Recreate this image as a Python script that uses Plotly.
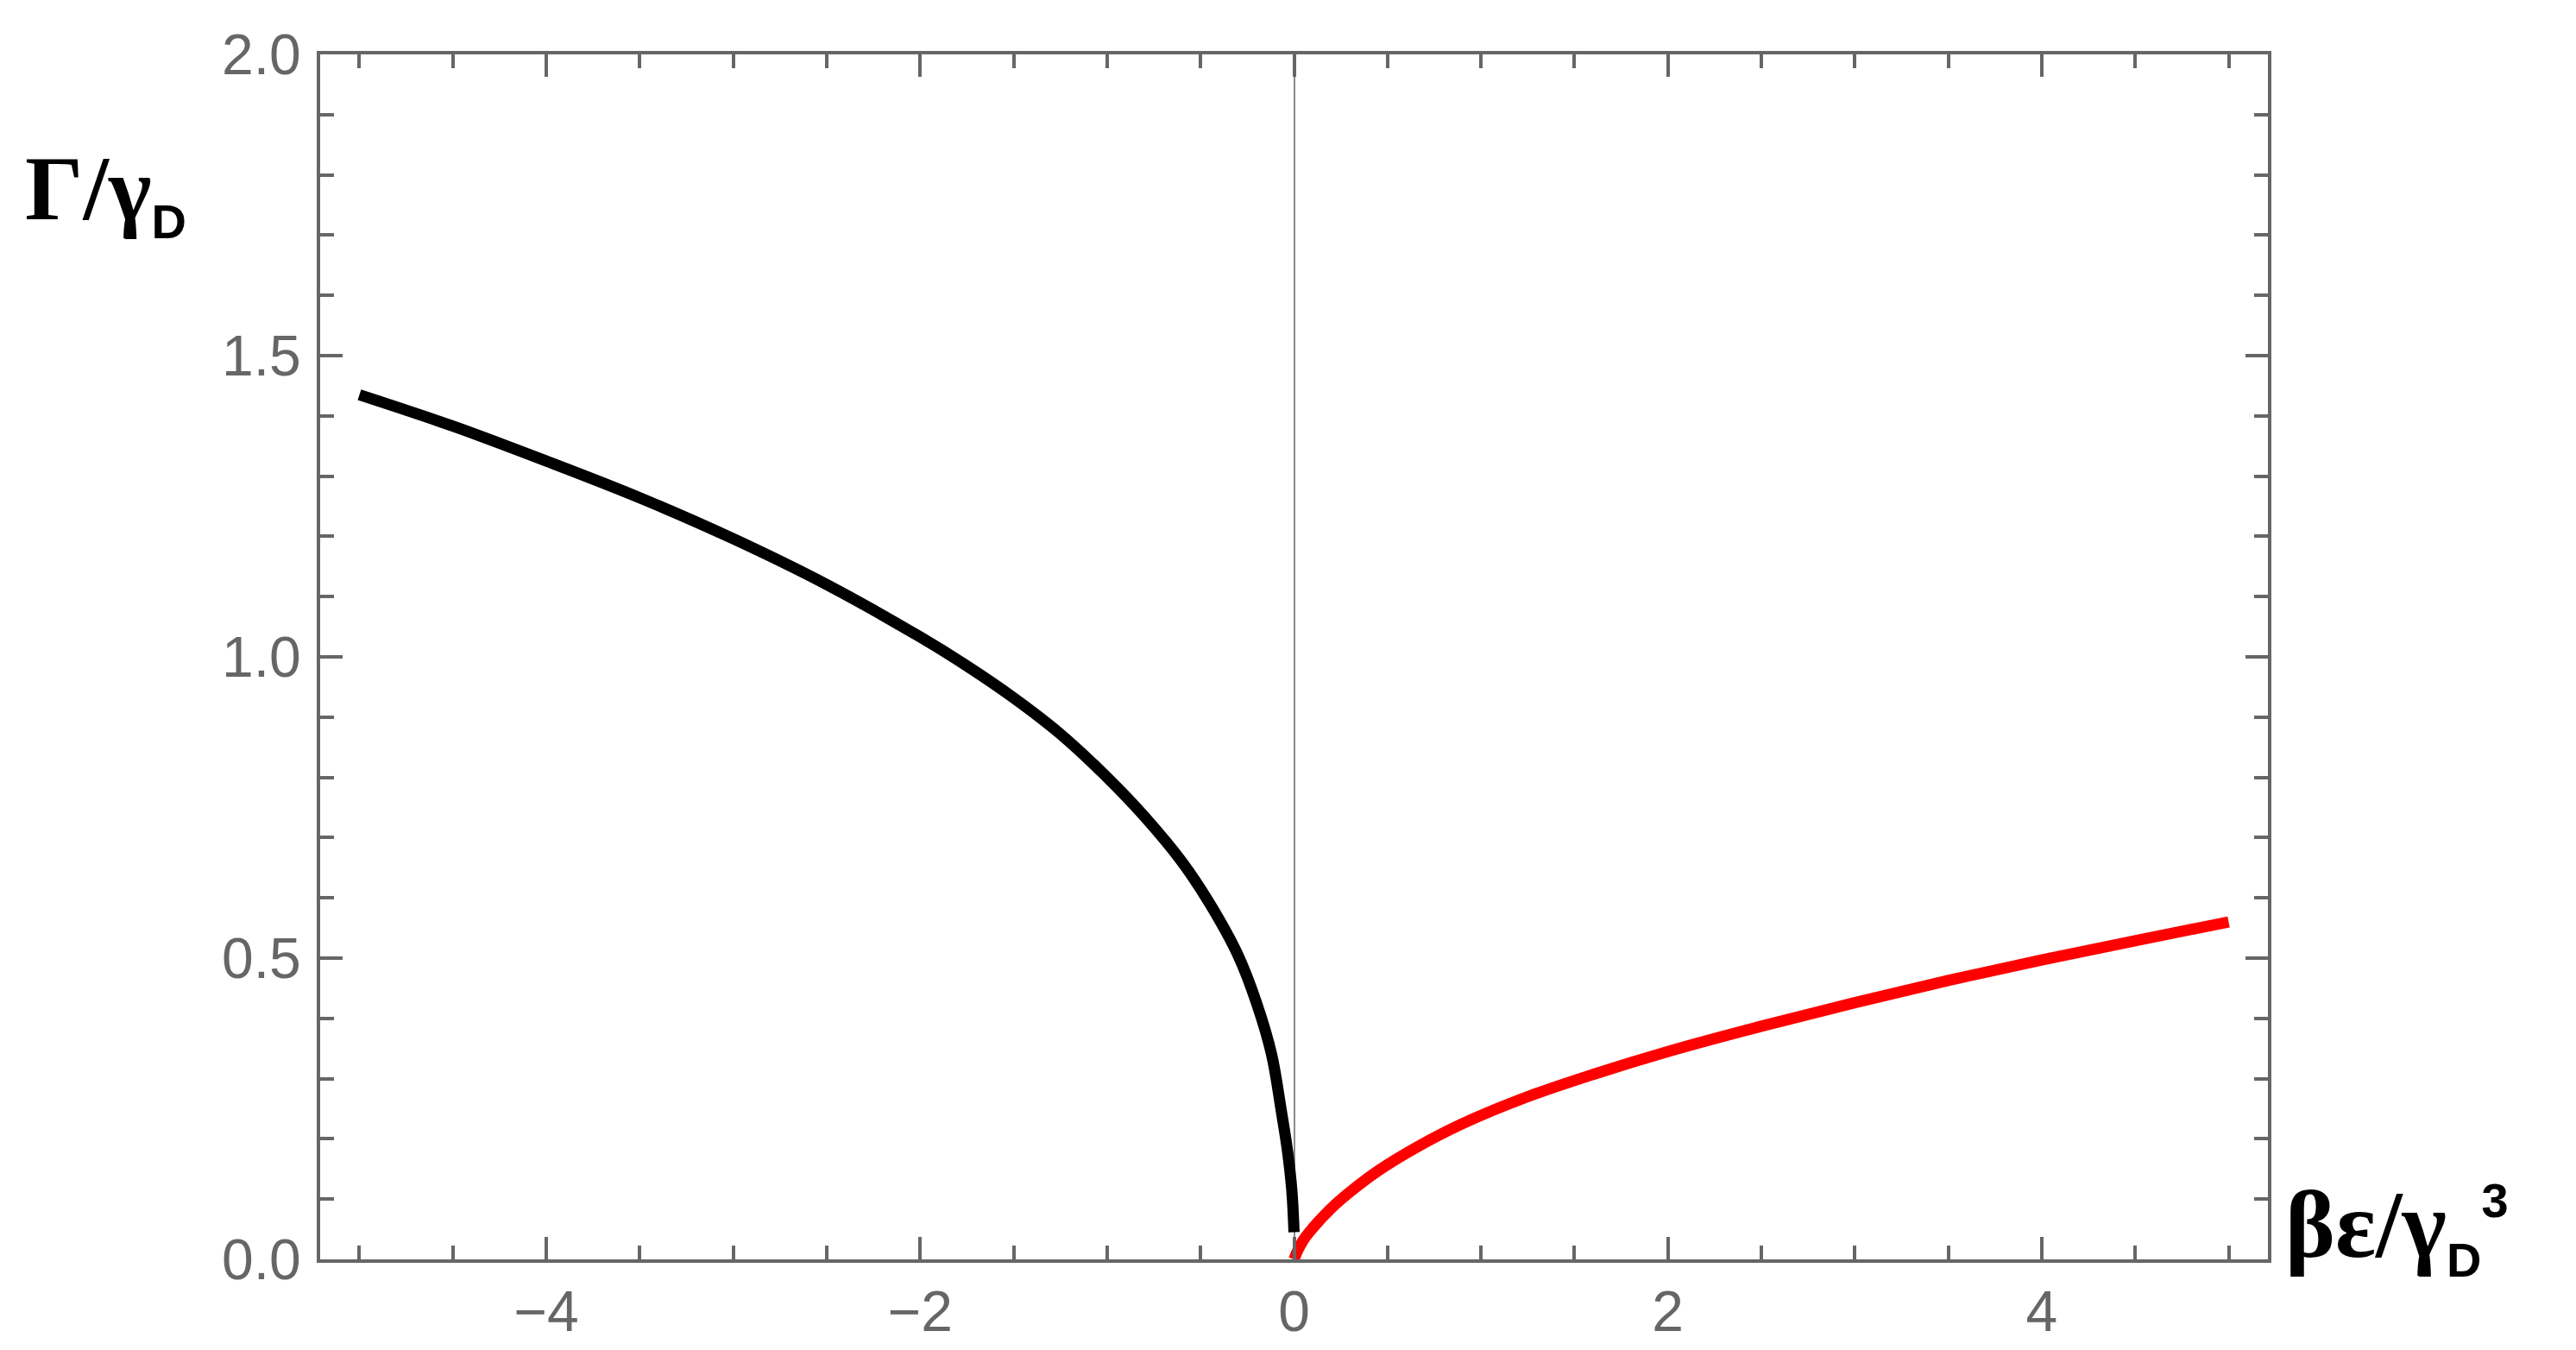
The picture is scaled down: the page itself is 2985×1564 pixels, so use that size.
import plotly.graph_objects as go

# Data
black_x = [-5.0, -4.5, -4.0, -3.5, -3.0, -2.5, -2.0, -1.75, -1.5, -1.25, -1.0, -0.8, -0.6, -0.45,
           -0.3, -0.2, -0.12, -0.07, -0.035, -0.012, 0.0]
black_y = [1.435, 1.383, 1.325, 1.264, 1.196, 1.12, 1.033, 0.985, 0.932, 0.872, 0.80, 0.735, 0.66, 0.59,
           0.505, 0.425, 0.34, 0.25, 0.18, 0.115, 0.045]

red_x = [0.0, 0.02, 0.05, 0.1, 0.2, 0.3, 0.45, 0.65, 0.9, 1.25, 1.6, 2.0, 2.5, 3.0, 3.5, 4.0, 4.5, 5.0]
red_y = [0.0, 0.015, 0.032, 0.052, 0.085, 0.112, 0.147, 0.185, 0.225, 0.27, 0.307, 0.345, 0.387,
         0.426, 0.463, 0.497, 0.529, 0.56]

x_tick_vals = [-4, -2, 0, 2, 4]
x_tick_text = ["\u22124", "\u22122", "0", "2", "4"]
y_tick_vals = [0.0, 0.5, 1.0, 1.5, 2.0]
y_tick_text = ["0.0", "0.5", "1.0", "1.5", "2.0"]

SUBSTYLE = "font-family:Liberation Sans;font-weight:bold;font-size:56px"
x_title = ("<b>\u03b2\u03b5/\u03b3</b><sub><span style='" + SUBSTYLE + "'>D</span></sub>"
           "<sup><span style='" + SUBSTYLE + "'>3</span></sup>")
y_title = ("<b>\u0393/\u03b3</b><sub><span style='" + SUBSTYLE + "'>D</span></sub>")

AX = "#666666"

fig = go.Figure()
fig.add_trace(go.Scatter(x=black_x, y=black_y, mode="lines",
                         line=dict(color="#000000", width=13, shape="spline", smoothing=1.0),
                         showlegend=False, hoverinfo="skip"))
fig.add_trace(go.Scatter(x=red_x, y=red_y, mode="lines",
                         line=dict(color="#ff0000", width=13, shape="spline", smoothing=1.0),
                         showlegend=False, hoverinfo="skip"))

tickfont = dict(family="Liberation Sans, Arial, sans-serif", size=66, color=AX)

# page body has an 8px margin: the figure is sized/margined so the frame lands where the reference has it
fig.update_layout(
    width=2969, height=1548,
    margin=dict(l=363, r=349, t=55, b=97),
    paper_bgcolor="white", plot_bgcolor="white",
    xaxis=dict(range=[-5.21, 5.21], tickmode="array", tickvals=x_tick_vals, ticktext=x_tick_text,
               ticks="inside", ticklen=26, tickwidth=4, tickcolor=AX,
               showline=True, linewidth=4, linecolor=AX, mirror="ticks",
               showgrid=False, zeroline=True, zerolinecolor="#8a8a8a", zerolinewidth=1.5,
               tickfont=tickfont, ticklabelstandoff=0, automargin=False,
               minor=dict(tickmode="linear", tick0=0, dtick=0.5, ticks="inside", ticklen=16,
                          tickwidth=4, tickcolor=AX, showgrid=False)),
    yaxis=dict(range=[0, 2], tickmode="array", tickvals=y_tick_vals, ticktext=y_tick_text,
               ticks="inside", ticklen=26, tickwidth=4, tickcolor=AX,
               showline=True, linewidth=4, linecolor=AX, mirror="ticks",
               showgrid=False, zeroline=False,
               tickfont=tickfont, ticklabelstandoff=5, automargin=False,
               minor=dict(tickmode="linear", tick0=0, dtick=0.1, ticks="inside", ticklen=16,
                          tickwidth=4, tickcolor=AX, showgrid=False)),
    annotations=[
        dict(text=y_title, xref="paper", yref="paper", x=-0.1525, y=0.885,
             xanchor="left", yanchor="middle", showarrow=False,
             font=dict(family="Liberation Serif, Times New Roman, serif", size=106, color="black")),
        dict(text=x_title, xref="paper", yref="paper", x=1.008, y=0.0245,
             xanchor="left", yanchor="middle", showarrow=False,
             font=dict(family="Liberation Serif, Times New Roman, serif", size=110, color="black")),
    ],
)

fig.write_html("out.html")
